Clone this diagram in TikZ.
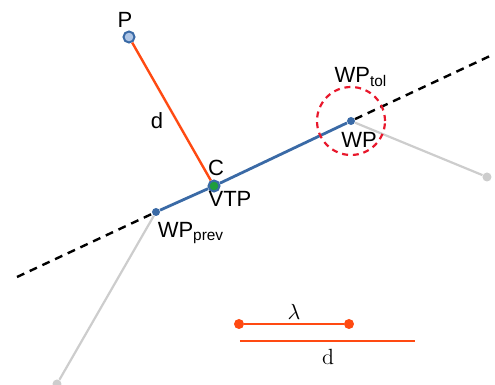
\documentclass[tikz,border=0pt]{standalone}
\usepackage{fontspec}
\setsansfont{Liberation Sans}
\usetikzlibrary{positioning}
\definecolor{segblue}{HTML}{3A6AA6}
\definecolor{pfill}{HTML}{AFC6E6}
\definecolor{vtpgreen}{HTML}{1F9E3C}
\definecolor{dorange}{HTML}{FF4A12}
\definecolor{nextgrey}{HTML}{CDCDCD}
\definecolor{tolred}{HTML}{E8182C}
\tikzset{
  lbl/.style={font=\sffamily\fontsize{11}{13}\selectfont, inner sep=0pt},
  wpdot/.style={circle, fill=segblue, inner sep=0pt, minimum size=4pt},
  greydot/.style={circle, fill=nextgrey, inner sep=0pt, minimum size=4.5pt},
  enddot/.style={circle, fill=dorange, inner sep=0pt, minimum size=5pt},
}
\begin{document}
\begin{tikzpicture}[x=0.5pt,y=-0.5pt]
  \useasboundingbox (0,0) rectangle (495,385);
  \node[wpdot] (WPprev) at (156,212) {};
  \node[wpdot] (WP) at (351,121) {};
  \node[circle, draw=segblue, fill=pfill, line width=1pt, inner sep=0pt, minimum size=5.5pt] (P) at (129,37) {};
  \node[circle, draw=segblue, fill=vtpgreen, line width=1pt, inner sep=0pt, minimum size=5.5pt] (C) at (214,186) {};
  \node[greydot] (WPnext) at (487,177) {};
  \node[greydot] (WPfirst) at (57,384) {};
  \coordinate (L) at (17,277);
  \coordinate (R) at (490,56);

  % labels
  \node[lbl] (Plbl) at (125,20) {P};
  \node[lbl] (dlbl) at (157,121) {d};
  \node[lbl] (Clbl) at (216,168) {C};
  \node[lbl] (VTPlbl) at (230,199) {VTP};
  \node[lbl] (WPprevlbl) at (191,233) {WP\textsubscript{prev}};
  \node[lbl] (WPlbl) at (359,140) {WP};
  \node[lbl] (WPtollbl) at (361,77) {WP\textsubscript{tol}};

  % lines
  \draw[black, line width=1.2pt, dash pattern=on 4pt off 3pt] (L) -- (WPprev);
  \draw[black, line width=1.2pt, dash pattern=on 4pt off 3pt] (WP) -- (R);
  \draw[nextgrey, line width=1.1pt] (WP) -- (WPnext);
  \draw[nextgrey, line width=1.1pt] (WPprev) -- (WPfirst);
  \draw[segblue, line width=1.4pt] (WPprev) -- (C);
  \draw[segblue, line width=1.4pt] (C) -- (WP);
  \draw[dorange, line width=1.2pt] (P) -- (C);
  \node[circle, draw=tolred, line width=1.1pt, dash pattern=on 3pt off 2.4pt, minimum size=34pt] (tol) at (WP) {};

  % legend
  \node[enddot] (lamA) at (239,324) {};
  \node[enddot] (lamB) at (349,324) {};
  \draw[dorange, line width=1.2pt] (lamA) -- (lamB);
  \node[font=\fontsize{11}{13}\selectfont, inner sep=0pt] (lamlbl) at (294,312) {$\lambda$};
  \coordinate (dA) at (240,341);
  \coordinate (dB) at (415,341);
  \draw[dorange, line width=1.2pt] (dA) -- (dB);
  \node[font=\fontsize{11}{13}\selectfont, inner sep=0pt] (dlgd) at (328,357) {d};
\end{tikzpicture}
\end{document}
